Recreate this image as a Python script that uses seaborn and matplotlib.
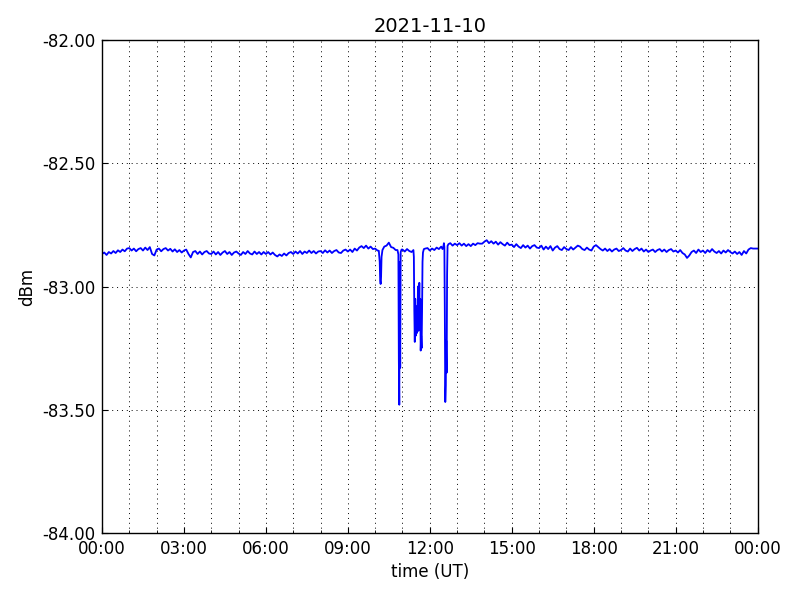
import numpy as np
import pandas as pd
import matplotlib
matplotlib.use('Agg')
import matplotlib.pyplot as plt
import matplotlib.dates as mdates
from matplotlib.ticker import FormatStrFormatter
import seaborn as sns

# baseline readings, every 5 minutes (dBm)
base_min = np.arange(0, 24 * 60 + 1, 5)
base_dbm = [
    -82.868, -82.862, -82.872, -82.860, -82.866, -82.856, -82.864, -82.853, -82.860, -82.850, -82.857, -82.846,
    -82.844, -82.854, -82.846, -82.857, -82.848, -82.844, -82.854, -82.842, -82.852, -82.840, -82.868, -82.874,
    -82.850, -82.846, -82.857, -82.848, -82.844, -82.854, -82.847, -82.858, -82.849, -82.860, -82.852, -82.862,
    -82.854, -82.850, -82.868, -82.882, -82.860, -82.856, -82.868, -82.858, -82.870, -82.860, -82.856, -82.866,
    -82.868, -82.858, -82.870, -82.860, -82.872, -82.862, -82.856, -82.868, -82.860, -82.872, -82.862, -82.858,
    -82.866, -82.872, -82.860, -82.868, -82.856, -82.866, -82.870, -82.858, -82.868, -82.860, -82.870, -82.860,
    -82.868, -82.860, -82.870, -82.862, -82.872, -82.878, -82.870, -82.876, -82.866, -82.874, -82.864, -82.860,
    -82.868, -82.858, -82.866, -82.856, -82.868, -82.858, -82.864, -82.854, -82.864, -82.856, -82.866, -82.858,
    -82.856, -82.864, -82.853, -82.862, -82.854, -82.864, -82.856, -82.852, -82.862, -82.864, -82.854, -82.850,
    -82.858, -82.850, -82.860, -82.846, -82.854, -82.842, -82.836, -82.844, -82.834, -82.846, -82.838, -82.848,
    -82.846, -82.854, -82.858, -82.844, -82.838, -82.834, -82.822, -82.840, -82.843, -82.852, -82.858, -82.850,
    -82.850, -82.858, -82.848, -82.856, -82.860, -82.850, -82.848, -82.858, -82.850, -82.860, -82.846, -82.844,
    -82.854, -82.846, -82.852, -82.842, -82.848, -82.838, -82.840, -82.834, -82.834, -82.824, -82.834, -82.826,
    -82.832, -82.824, -82.834, -82.826, -82.836, -82.828, -82.836, -82.826, -82.832, -82.824, -82.826, -82.826,
    -82.818, -82.812, -82.824, -82.816, -82.826, -82.818, -82.830, -82.820, -82.828, -82.834, -82.822, -82.832,
    -82.830, -82.840, -82.828, -82.838, -82.844, -82.832, -82.842, -82.834, -82.846, -82.836, -82.832, -82.842,
    -82.844, -82.834, -82.850, -82.838, -82.848, -82.836, -82.854, -82.842, -82.836, -82.848, -82.852, -82.840,
    -82.848, -82.852, -82.840, -82.850, -82.842, -82.834, -82.838, -82.848, -82.852, -82.842, -82.850, -82.854,
    -82.838, -82.832, -82.840, -82.848, -82.854, -82.846, -82.856, -82.848, -82.858, -82.850, -82.846, -82.856,
    -82.852, -82.844, -82.854, -82.858, -82.846, -82.856, -82.848, -82.843, -82.854, -82.846, -82.858, -82.850,
    -82.860, -82.854, -82.850, -82.860, -82.852, -82.848, -82.858, -82.850, -82.860, -82.852, -82.848, -82.858,
    -82.854, -82.862, -82.852, -82.864, -82.870, -82.884, -82.874, -82.860, -82.854, -82.864, -82.850, -82.860,
    -82.854, -82.864, -82.852, -82.860, -82.848, -82.858, -82.864, -82.856, -82.866, -82.854, -82.862, -82.852,
    -82.860, -82.866, -82.858, -82.868, -82.860, -82.872, -82.856, -82.866, -82.850, -82.844, -82.846, -82.846,
    -82.846,
]

# short fades, minute by minute
dip1_min = [608, 610, 611, 612, 613, 614, 616]
dip1_dbm = [-82.855, -82.900, -82.975, -82.990, -82.960, -82.880, -82.852]

dip2_min = [649, 651, 652, 653, 654, 655, 656, 658]
dip2_dbm = [-82.852, -82.870, -83.300, -83.480, -82.900, -83.330, -82.860, -82.850]

dip3_min = [684, 685, 686, 687, 688, 689, 690, 691, 692, 693, 694, 695, 696, 697, 698, 699,
            700, 701, 702, 703, 704, 705, 707]
dip3_dbm = [-82.852, -82.880, -83.100, -83.225, -83.050, -83.200, -83.080, -83.190, -83.120,
            -83.150, -83.000, -83.180, -83.100, -82.985, -83.160, -83.050, -83.260, -83.200,
            -83.250, -83.100, -82.900, -82.862, -82.848]

dip4_min = [748, 750, 751, 752, 753, 754, 755, 756, 757, 758, 759, 761]
dip4_dbm = [-82.848, -82.836, -82.824, -82.840, -83.100, -83.469, -83.400, -83.220, -83.350,
            -82.950, -82.835, -82.828]

dips = [(dip1_min, dip1_dbm), (dip2_min, dip2_dbm), (dip3_min, dip3_dbm), (dip4_min, dip4_dbm)]

# merge baseline with fades
t = np.array(base_min, dtype=float)
v = np.array(base_dbm, dtype=float)
keep = np.ones(len(t), dtype=bool)
for dm, dv in dips:
    keep &= ~((t >= dm[0]) & (t <= dm[-1]))
t = np.concatenate([t[keep]] + [np.array(dm, dtype=float) for dm, _ in dips])
v = np.concatenate([v[keep]] + [np.array(dv, dtype=float) for _, dv in dips])
order = np.argsort(t)
day = pd.Timestamp('2021-11-10')
df = pd.DataFrame({'time': day + pd.to_timedelta(t[order], unit='m'), 'dbm': v[order]})

fig, ax = plt.subplots(figsize=(8, 6), dpi=100)
plt.subplots_adjust(left=0.1275, right=0.947, top=0.933, bottom=0.112)

sns.lineplot(data=df, x='time', y='dbm', color='#0000ff', linewidth=1.3,
             estimator=None, ax=ax)

ax.set_xlim(day, day + pd.Timedelta(days=1))
ax.set_ylim(-84, -82)
ax.set_yticks([-84, -83.5, -83, -82.5, -82])
ax.yaxis.set_major_formatter(FormatStrFormatter('%.2f'))
ax.xaxis.set_major_locator(mdates.HourLocator(interval=3))
ax.xaxis.set_minor_locator(mdates.HourLocator())
ax.xaxis.set_major_formatter(mdates.DateFormatter('%H:%M'))

grid_style = dict(color='k', linestyle=(0, (1, 4)), linewidth=0.7)
ax.grid(True, which='major', axis='both', **grid_style)
ax.grid(True, which='minor', axis='x', **grid_style)
ax.tick_params(which='both', direction='in', labelsize=12)
ax.tick_params(which='major', length=4, pad=5)
ax.tick_params(which='minor', length=2)
for s in ax.spines.values():
    s.set_color('k')
    s.set_linewidth(1.0)

ax.set_title('2021-11-10', fontsize=14)
ax.set_xlabel('time (UT)', fontsize=12)
ax.set_ylabel('dBm', fontsize=12)

plt.savefig('out.png', dpi=100)
